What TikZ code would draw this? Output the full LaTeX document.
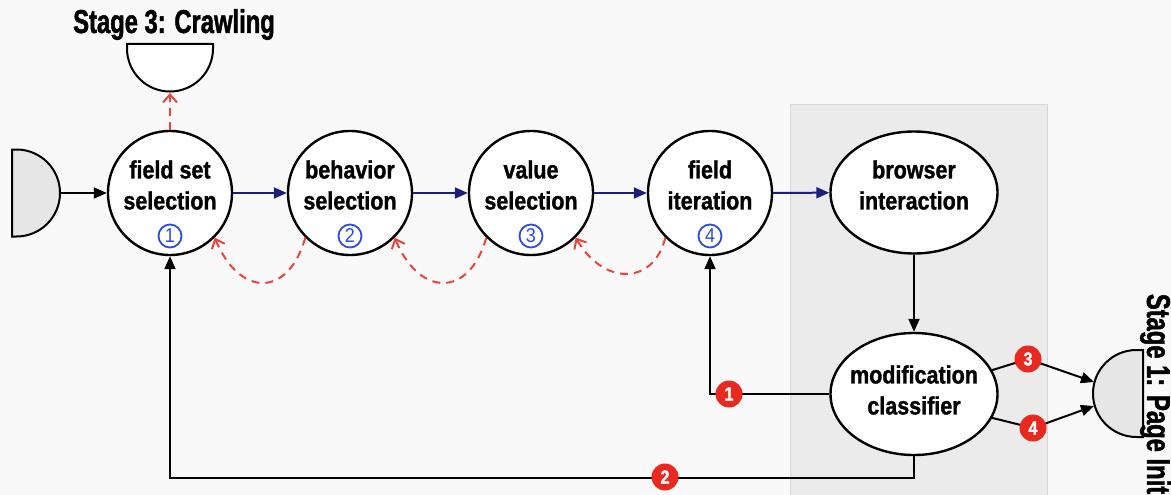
\documentclass[tikz,border=0pt]{standalone}
\usepackage{fontspec}
\usetikzlibrary{arrows.meta,shapes.geometric,calc}
\newfontfamily\bodyfont[FakeStretch=0.86,FakeBold=1.2]{Liberation Sans}
\newfontfamily\headfont[FakeStretch=0.72,FakeBold=1.4]{Liberation Sans}
\newfontfamily\numfont[FakeStretch=0.9]{Liberation Sans}
\definecolor{pagebg}{HTML}{F9F9F9}
\definecolor{panelbg}{HTML}{EBEBEB}
\definecolor{panelrule}{HTML}{D6D6D6}
\definecolor{termfill}{HTML}{E6E6E6}
\definecolor{flowblue}{HTML}{1B1F7A}
\definecolor{backred}{HTML}{E8453C}
\definecolor{badgered}{HTML}{E8291F}
\definecolor{stepblue}{HTML}{2B4FD6}
\begin{document}
\begin{tikzpicture}[x=1pt,y=-1pt,
  stage/.style={circle,draw,line width=2.4pt,fill=white,minimum size=124pt,inner sep=0pt},
  proc/.style={ellipse,draw,line width=2.4pt,fill=white,minimum width=167pt,minimum height=122pt,inner sep=0pt},
  lbl/.style={align=center,font=\bodyfont\bfseries\fontsize{25}{31}\selectfont,inner sep=0pt},
  stepno/.style={circle,draw=stepblue,line width=1.8pt,text=stepblue,minimum size=23pt,inner sep=0pt,font=\numfont\fontsize{20}{20}\selectfont},
  badge/.style={circle,fill=badgered,text=white,minimum size=27pt,inner sep=0pt,font=\bodyfont\bfseries\fontsize{19}{19}\selectfont},
  flow/.style={draw=flowblue,line width=2pt,-{Triangle[length=13pt,width=11pt]}},
  ctrl/.style={draw=black,line width=2pt,-{Triangle[length=13pt,width=11pt]}},
  back/.style={draw=backred,line width=2pt,dash pattern=on 8pt off 6pt,-{Straight Barb[length=8pt,width=14pt]}},
  term/.style={draw,line width=2pt},
  head/.style={font=\headfont\bfseries\fontsize{33}{33}\selectfont,inner sep=0pt}
]
% page and shaded panel
\fill[pagebg] (0,0) rectangle (1171,495);
\useasboundingbox (0,0) rectangle (1171,495);
\fill[panelbg] (790,105) rectangle (1047,495);
\draw[panelrule,line width=1pt] (790,495) -- (790,105) -- (1047,105) -- (1047,495);

% terminals
\draw[term,fill=termfill] (12,149.5) -- (16.5,149.5) arc[start angle=90,end angle=-90,radius=43.5pt] -- (12,236.5) -- cycle;
\coordinate (in-out) at (60,193);
\draw[term,fill=white] (127,44) -- (127,48.5) arc[start angle=180,end angle=360,radius=43pt] -- (213,44) -- cycle;
\coordinate (crawl-in) at (170,93);
\draw[term,fill=termfill] (1143,350) -- (1136.5,350) arc[start angle=90,end angle=270,radius=43.5pt] -- (1143,437) -- cycle;
\coordinate (init-a) at (1094,382);
\coordinate (init-b) at (1094,406);

\node[head] (crawl-t) at (174,24.5) {Stage 3: Crawling};
\node[head,rotate=-90] (init-t) at (1155.5,394) {Stage 1: Page Init};

% processing steps
\node[stage] (fss) at (170,193) {};
\node[stage] (bs) at (350,193) {};
\node[stage] (vs) at (531,193) {};
\node[stage] (fi) at (710,193) {};
\node[proc] (bi) at (914,192.5) {};
\node[proc] (mc) at (914,394) {};

\node[lbl] (fss-t) at (170,185) {field set\\selection};
\node[lbl] (bs-t) at (350,185) {behavior\\selection};
\node[lbl] (vs-t) at (531,185) {value\\selection};
\node[lbl] (fi-t) at (710,185) {field\\iteration};
\node[lbl] (bi-t) at (914,185) {browser\\interaction};
\node[lbl] (mc-t) at (914,390) {modification\\classifier};

\node[stepno] (fss-n) at (170,236) {1};
\node[stepno] (bs-n) at (350,236) {2};
\node[stepno] (vs-n) at (531,236) {3};
\node[stepno] (fi-n) at (710,236) {4};

% forward flow
\draw[ctrl] (in-out) -- (fss);
\draw[flow] (fss) -- (bs);
\draw[flow] (bs) -- (vs);
\draw[flow] (vs) -- (fi);
\draw[flow] (fi) -- (bi);
\draw[ctrl] (bi) -- (mc);

% backtracking
\draw[back] (fss.north) -- (crawl-in);
\draw[back] (bs.225) .. controls +(-17,60) and +(25,60) .. (fss.315);
\draw[back] (vs.225) .. controls +(-17,60) and +(25,60) .. (bs.315);
\draw[back] (fi.225) .. controls +(-12,48) and +(28,48) .. (vs.315);

% classifier outcomes
\coordinate (b3pos) at (1028,359);
\coordinate (b4pos) at (1033,428);
\draw[ctrl] (mc.west) -- (fi.south |- mc.west) -- (fi.south);
\draw[ctrl] (mc.south) -- ++(0,22) -| (fss.south);
\draw[ctrl] (mc.17) -- (b3pos) -- (init-a);
\draw[ctrl] (mc.-17) -- (b4pos) -- (init-b);

\node[badge] (b1) at (729,394) {1};
\node[badge] (b2) at (665,477) {2};
\node[badge] (b3) at (b3pos) {3};
\node[badge] (b4) at (b4pos) {4};
\end{tikzpicture}
\end{document}
